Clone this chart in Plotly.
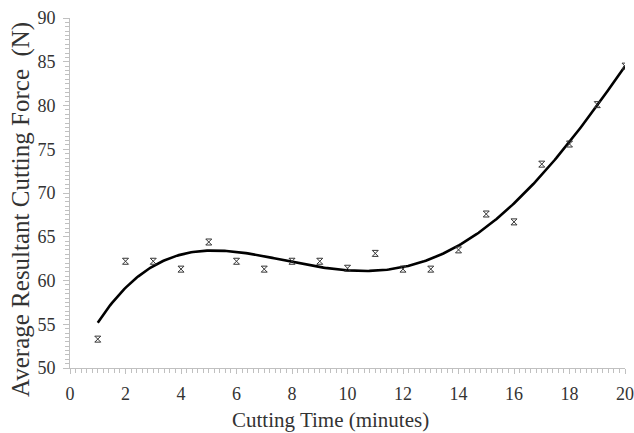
import numpy as np
import plotly.graph_objects as go

# Data
cutting_time = [1, 2, 3, 4, 5, 6, 7, 8, 9, 10, 11, 12, 13, 14, 15, 16, 17, 18, 19, 20]
cutting_force = [53.3, 62.2, 62.2, 61.3, 64.4, 62.2, 61.3, 62.2, 62.2, 61.4,
                 63.1, 61.3, 61.3, 63.5, 67.6, 66.7, 73.3, 75.6, 80.1, 84.5]
x_ticks = [0, 2, 4, 6, 8, 10, 12, 14, 16, 18, 20]
y_ticks = [50, 55, 60, 65, 70, 75, 80, 85, 90]
x_title = "Cutting Time (minutes)"
y_title = "Average Resultant Cutting Force  (N)"

# Polynomial trend line (order 4) fitted to the data
coef = np.polyfit(cutting_time, cutting_force, 4)
xs = np.linspace(min(cutting_time), max(cutting_time), 300)
ys = np.polyval(coef, xs)

fig = go.Figure()
fig.add_trace(go.Scatter(
    x=xs, y=ys, mode="lines",
    line=dict(color="black", width=2.6),
    hoverinfo="skip", showlegend=False,
))
fig.add_trace(go.Scatter(
    x=cutting_time, y=cutting_force, mode="markers",
    marker=dict(symbol="hourglass-open", size=6, color="#333333",
                line=dict(width=1, color="#333333")),
    showlegend=False,
))

axis_color = "#c0c0c0"
font_family = "Liberation Serif, Times New Roman, serif"
text_color = "#333333"

fig.update_layout(
    width=634, height=433,
    margin=dict(l=70, r=9, t=18, b=65),
    paper_bgcolor="white", plot_bgcolor="white",
    font=dict(family=font_family, color=text_color),
    xaxis=dict(
        range=[0, 20], tickvals=x_ticks, showgrid=False, zeroline=False, automargin=False,
        showline=True, linecolor=axis_color, linewidth=1,
        ticks="outside", ticklen=5, tickcolor=axis_color, ticklabelstandoff=4,
        ticklabeloverflow="allow",
        tickfont=dict(size=18, family=font_family, color=text_color),
        minor=dict(dtick=0.2, ticks="outside", ticklen=4, tickcolor=axis_color, showgrid=False),
    ),
    yaxis=dict(
        range=[50, 90], tickvals=y_ticks, showgrid=False, zeroline=False, automargin=False,
        showline=True, linecolor=axis_color, linewidth=1,
        ticks="outside", ticklen=6, tickcolor=axis_color, ticklabelstandoff=4,
        ticklabeloverflow="allow",
        tickfont=dict(size=18, family=font_family, color=text_color),
        minor=dict(dtick=0.5, ticks="outside", ticklen=4, tickcolor=axis_color, showgrid=False),
    ),
    annotations=[
        dict(text=x_title, xref="paper", yref="paper", x=0.4685, y=0,
             xanchor="center", yanchor="middle", yshift=-52, showarrow=False,
             font=dict(size=21, family=font_family, color=text_color)),
        dict(text=y_title, xref="paper", yref="paper", x=0, y=0.453,
             xanchor="center", yanchor="middle", xshift=-48.5, textangle=-90, showarrow=False,
             font=dict(size=25, family=font_family, color=text_color)),
    ],
)

fig.write_html("out.html",
               config={"displayModeBar": False},
               post_script="document.body.style.margin='0';document.body.style.overflow='hidden';")
